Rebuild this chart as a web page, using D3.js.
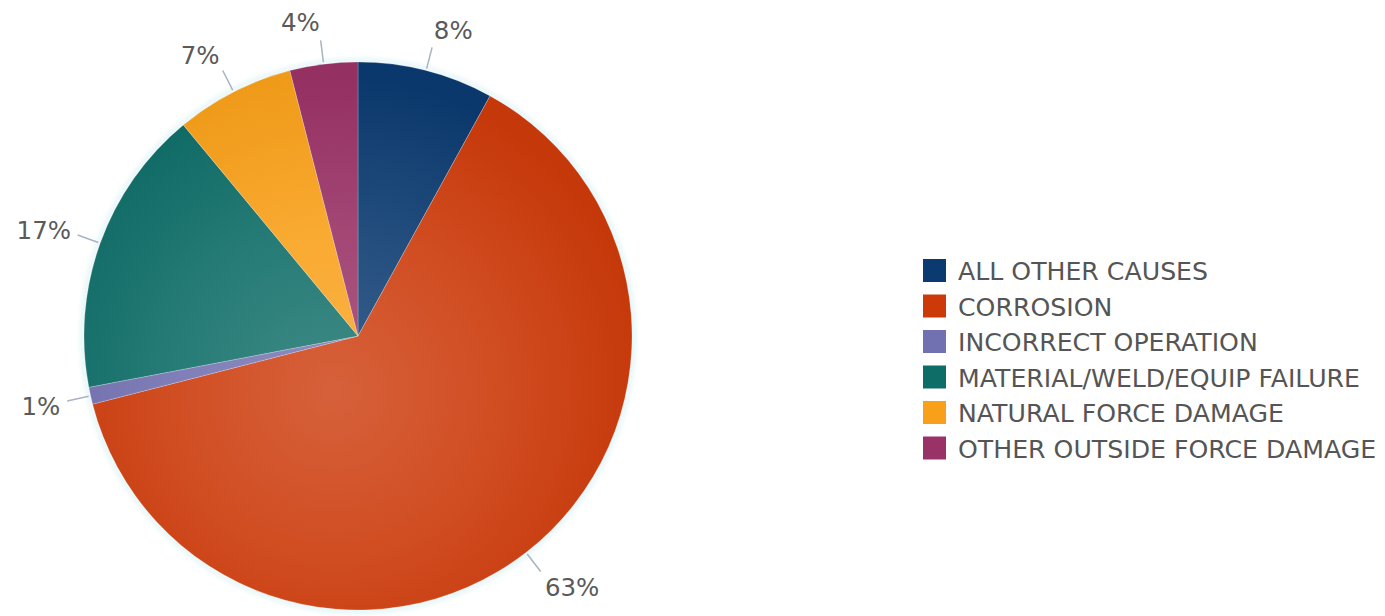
<!DOCTYPE html>
<html>
<head>
<meta charset="utf-8">
<script src="https://cdn.jsdelivr.net/npm/d3@7"></script>
<style>
  html, body { margin: 0; padding: 0; background: #fff; }
  svg { display: block; }
  text { font-family: "DejaVu Sans", Verdana, sans-serif; }
</style>
</head>
<body>
<svg id="chart" width="1385" height="616"></svg>
<script>
// Causes of incidents, share of total (%)
const categories = [
  "ALL OTHER CAUSES",
  "CORROSION",
  "INCORRECT OPERATION",
  "MATERIAL/WELD/EQUIP FAILURE",
  "NATURAL FORCE DAMAGE",
  "OTHER OUTSIDE FORCE DAMAGE"
];
const shares = [8, 63, 1, 17, 7, 4];
const sliceColors = ["#0b3a70", "#cc3a0a", "#7170b0", "#0f6d68", "#f8a01a", "#993266"];

const W = 1385, H = 616;
const cx = 358, cy = 336, R = 274;

const svg = d3.select("#chart");
const defs = svg.append("defs");

const color = d3.scaleOrdinal().domain(categories).range(sliceColors);

// Per-slice radial shading (coordinates relative to the pie centre):
// lighter towards the middle, deeper at the rim
categories.forEach((c, i) => {
  const base = d3.color(color(c));
  const g = defs.append("radialGradient")
    .attr("id", "grad" + i)
    .attr("gradientUnits", "userSpaceOnUse")
    .attr("cx", -25).attr("cy", 55).attr("r", R * 1.15)
    .attr("fx", -25).attr("fy", 55);
  g.append("stop").attr("offset", 0).attr("stop-color", d3.interpolateRgb(base, "#fff")(0.2));
  g.append("stop").attr("offset", 0.5).attr("stop-color", d3.interpolateRgb(base, "#fff")(0.1));
  g.append("stop").attr("offset", 1).attr("stop-color", base.darker(0.1));
});

// soft light rim around the pie
const glow = defs.append("filter").attr("id", "rim").attr("x", "-10%").attr("y", "-10%").attr("width", "120%").attr("height", "120%");
glow.append("feGaussianBlur").attr("stdDeviation", 2.5);

const pie = d3.pie().sort(null).value(d => d.value);
const arcs = pie(categories.map((c, i) => ({ name: c, value: shares[i], idx: i })));
const arc = d3.arc().innerRadius(0).outerRadius(R);

const g = svg.append("g").attr("transform", `translate(${cx},${cy})`);

g.append("circle").attr("r", R + 1.5)
  .attr("fill", "none").attr("stroke", "#dff3f5").attr("stroke-width", 4)
  .attr("filter", "url(#rim)");

g.selectAll("path.slice")
  .data(arcs)
  .join("path")
  .attr("class", "slice")
  .attr("d", arc)
  .attr("fill", d => `url(#grad${d.data.idx})`)
  .attr("stroke", "rgba(255,255,255,0.35)")
  .attr("stroke-width", 0.6);

// leader lines and percentage labels
const lbl = svg.append("g");
arcs.forEach(d => {
  const a = (d.startAngle + d.endAngle) / 2;
  const dx = Math.sin(a), dy = -Math.cos(a);
  const ex = cx + dx * R, ey = cy + dy * R;
  lbl.append("line")
    .attr("x1", ex + dx * 2).attr("y1", ey + dy * 2)
    .attr("x2", ex + dx * 24).attr("y2", ey + dy * 24)
    .attr("stroke", "#a8b3c1").attr("stroke-width", 1.5);
  const px = ex + dx * 31;
  const py = ey + dy * 28 + dy * 15;
  lbl.append("text")
    .attr("x", px)
    .attr("y", py + 10)
    .attr("text-anchor", dx >= 0 ? "start" : "end")
    .attr("font-size", 24.5)
    .attr("fill", "#5a5a5a")
    .text(d.data.value + "%");
});

// legend
const legend = svg.append("g").attr("transform", "translate(923,259)");
const rowH = 35.5;
const rows = legend.selectAll("g").data(categories).join("g")
  .attr("transform", (d, i) => `translate(0,${i * rowH})`);
rows.append("rect").attr("width", 23).attr("height", 23).attr("fill", d => color(d));
rows.append("text")
  .attr("x", 35).attr("y", 21)
  .attr("font-size", 25.2)
  .attr("fill", "#555")
  .text(d => d);
</script>
</body>
</html>
